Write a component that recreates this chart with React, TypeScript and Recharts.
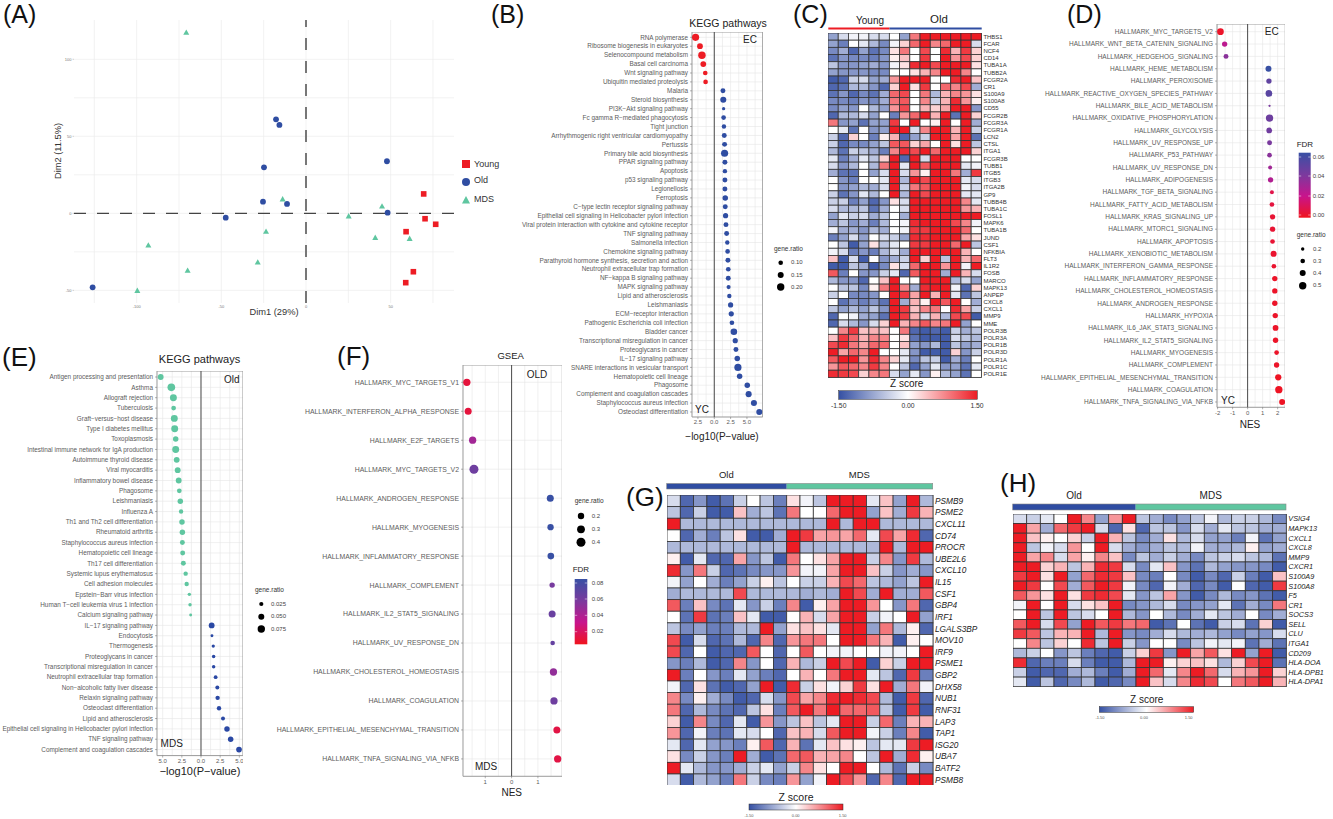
import React from 'react';
import { ScatterChart, Scatter, XAxis, YAxis, CartesianGrid, ReferenceLine, ReferenceArea } from 'recharts';

const FONT = '"Liberation Sans", Arial, sans-serif';

// ---------- Panel A ----------
const aYoung = [[69.5,12.6],[70.3,-3.5],[76.6,-7.1],[59.1,-11.9],[63.4,-37.9],[58.9,-45]];
const aOld = [[-17.7,61],[-15.7,57.4],[-24.8,29.9],[47.8,33.8],[-25.4,7.6],[-11.2,6.1],[48.2,0.4],[-47.4,-2.8],[-126,-48]];
const aMds = [[-70.7,117.3],[-13.8,9.1],[44.9,4.5],[25.2,-1.9],[40.9,-15.8],[61.2,-16.5],[-23.6,-11.9],[-93.1,-20.8],[-28.5,-31.8],[-69.9,-37.2],[-99.6,-50.2]];

// ---------- Panel B ----------
const bLabels = ['RNA polymerase','Ribosome biogenesis in eukaryotes','Selenocompound metabolism','Basal cell carcinoma','Wnt signaling pathway','Ubiquitin mediated proteolysis','Malaria','Steroid biosynthesis','PI3K\u2212Akt signaling pathway','Fc gamma R\u2212mediated phagocytosis','Tight junction','Arrhythmogenic right ventricular cardiomyopathy','Pertussis','Primary bile acid biosynthesis','PPAR signaling pathway','Apoptosis','p53 signaling pathway','Legionellosis','Ferroptosis','C\u2212type lectin receptor signaling pathway','Epithelial cell signaling in Helicobacter pylori infection','Viral protein interaction with cytokine and cytokine receptor','TNF signaling pathway','Salmonella infection','Chemokine signaling pathway','Parathyroid hormone synthesis, secretion and action','Neutrophil extracellular trap formation','NF\u2212kappa B signaling pathway','MAPK signaling pathway','Lipid and atherosclerosis','Leishmaniasis','ECM\u2212receptor interaction','Pathogenic Escherichia coli infection','Bladder cancer','Transcriptional misregulation in cancer','Proteoglycans in cancer','IL\u221217 signaling pathway','SNARE interactions in vesicular transport','Hematopoietic cell lineage','Phagosome','Complement and coagulation cascades','Staphylococcus aureus infection','Osteoclast differentiation'];
const bValues = [-2.86,-2.19,-1.89,-1.68,-1.38,-1.33,1.33,1.38,1.43,1.43,1.48,1.53,1.58,1.58,1.63,1.63,1.63,1.63,1.68,1.68,1.73,1.79,1.89,1.99,2.04,2.09,2.14,2.14,2.19,2.3,2.5,2.6,2.7,3.0,3.21,3.32,3.52,3.62,3.88,5.05,5.26,6.07,6.89];
const bRatios = [.19,.14,.2,.14,.1,.1,.11,.15,.05,.1,.09,.11,.11,.19,.11,.09,.11,.11,.13,.11,.12,.11,.11,.09,.1,.11,.1,.11,.08,.09,.12,.12,.1,.17,.12,.11,.13,.19,.13,.13,.15,.15,.15];

// ---------- Panel D ----------
const dLabels = ['MYC_TARGETS_V2','WNT_BETA_CATENIN_SIGNALING','HEDGEHOG_SIGNALING','HEME_METABOLISM','PEROXISOME','REACTIVE_OXYGEN_SPECIES_PATHWAY','BILE_ACID_METABOLISM','OXIDATIVE_PHOSPHORYLATION','GLYCOLYSIS','UV_RESPONSE_UP','P53_PATHWAY','UV_RESPONSE_DN','ADIPOGENESIS','TGF_BETA_SIGNALING','FATTY_ACID_METABOLISM','KRAS_SIGNALING_UP','MTORC1_SIGNALING','APOPTOSIS','XENOBIOTIC_METABOLISM','INTERFERON_GAMMA_RESPONSE','INFLAMMATORY_RESPONSE','CHOLESTEROL_HOMEOSTASIS','ANDROGEN_RESPONSE','HYPOXIA','IL6_JAK_STAT3_SIGNALING','IL2_STAT5_SIGNALING','MYOGENESIS','COMPLEMENT','EPITHELIAL_MESENCHYMAL_TRANSITION','COAGULATION','TNFA_SIGNALING_VIA_NFKB'].map((s) => 'HALLMARK_' + s);
const dValues = [-1.81,-1.53,-1.44,1.39,1.42,1.42,1.46,1.46,1.44,1.46,1.46,1.5,1.53,1.62,1.62,1.66,1.66,1.66,1.73,1.75,1.81,1.81,1.81,1.84,1.86,1.86,1.93,1.93,2.04,2.08,2.3];
const dRatios = [.45,.35,.32,.4,.35,.45,.12,.5,.38,.32,.3,.25,.35,.25,.3,.35,.35,.3,.4,.3,.35,.35,.35,.35,.38,.35,.3,.35,.42,.5,.4];
const dFdr = [.002,.023,.036,.06,.048,.05,.04,.044,.043,.04,.036,.03,.026,.008,.006,.004,.004,.004,.003,.003,.002,.002,.002,.002,.002,.002,.002,.002,.001,.001,.001];

// ---------- Panel E ----------
const eLabels = ['Antigen processing and presentation','Asthma','Allograft rejection','Tuberculosis','Graft\u2212versus\u2212host disease','Type I diabetes mellitus','Toxoplasmosis','Intestinal immune network for IgA production','Autoimmune thyroid disease','Viral myocarditis','Inflammatory bowel disease','Phagosome','Leishmaniasis','Influenza A','Th1 and Th2 cell differentiation','Rheumatoid arthritis','Staphylococcus aureus infection','Hematopoietic cell lineage','Th17 cell differentiation','Systemic lupus erythematosus','Cell adhesion molecules','Epstein\u2212Barr virus infection','Human T\u2212cell leukemia virus 1 infection','Calcium signaling pathway','IL\u221217 signaling pathway','Endocytosis','Thermogenesis','Proteoglycans in cancer','Transcriptional misregulation in cancer','Neutrophil extracellular trap formation','Non\u2212alcoholic fatty liver disease','Relaxin signaling pathway','Osteoclast differentiation','Lipid and atherosclerosis','Epithelial cell signaling in Helicobacter pylori infection','TNF signaling pathway','Complement and coagulation cascades'];
const eValues = [-5.26,-3.87,-3.6,-3.57,-3.48,-3.43,-3.3,-3.3,-3.17,-3.04,-2.91,-2.83,-2.7,-2.6,-2.48,-2.43,-2.43,-2.39,-2.3,-2,-1.87,-1.52,-1.43,-1.35,1.39,1.43,1.6,1.65,1.65,1.91,2.13,2.17,2.35,2.87,3.39,3.87,4.96];
const eRatios = [.05,.075,.065,.035,.065,.065,.045,.065,.05,.05,.05,.035,.045,.03,.045,.045,.038,.038,.038,.03,.03,.017,.017,.01,.05,.01,.015,.018,.018,.022,.025,.03,.03,.025,.045,.045,.048];

// ---------- Panel F ----------
const fLabels = ['MYC_TARGETS_V1','INTERFERON_ALPHA_RESPONSE','E2F_TARGETS','MYC_TARGETS_V2','ANDROGEN_RESPONSE','MYOGENESIS','INFLAMMATORY_RESPONSE','COMPLEMENT','IL2_STAT5_SIGNALING','UV_RESPONSE_DN','CHOLESTEROL_HOMEOSTASIS','COAGULATION','EPITHELIAL_MESENCHYMAL_TRANSITION','TNFA_SIGNALING_VIA_NFKB'].map((s) => 'HALLMARK_' + s);
const fValues = [-1.7,-1.65,-1.48,-1.43,1.47,1.48,1.49,1.54,1.54,1.56,1.59,1.61,1.72,1.75];
const fRatios = [.27,.25,.27,.4,.25,.2,.22,.13,.25,.07,.27,.27,.25,.27];
const fFdr = [.008,.008,.042,.062,.085,.085,.085,.058,.064,.066,.048,.062,.01,.01];

// ---------- Heatmaps: z score x 10 ----------
const cGenes = ['THBS1','FCAR','NCF4','CD14','TUBA1A','TUBB2A','FCGR2A','CR1','S100A9','S100A8','CD55','FCGR2B','FCGR3A','FCGR1A','LCN2','CTSL','ITGA1','FCGR3B','TUBB1','ITGB5','ITGB3','ITGA2B','GP9','TUBB4B','TUBA1C','FOSL1','MAPK6','TUBA1B','JUND','CSF1','NFKBIA','FLT3','IL1R2','FOSB','MARCO','MAPK13','ANPEP','CXCL8','CXCL1','MMP9','MME','POLR3B','POLR3A','POLR1B','POLR3D','POLR1A','POLR1C','POLR1E'];
const cValues = [
[-8,-3,-1,-1,-3,-3,0,-8,9,15,15,15,15,15,15],
[-8,-11,0,-2,-6,-10,-1,3,10,15,8,10,15,15,-3],
[-10,-7,-13,-8,-12,-10,2,9,0,12,0,14,5,13,3],
[-12,-9,-10,-10,-11,-9,1,4,0,13,0,15,7,12,3],
[-5,-9,-9,-8,-7,-9,-1,2,14,15,12,15,15,15,2],
[-8,-9,-9,-9,-10,-10,0,0,2,5,8,15,15,8,0],
[-14,-13,-4,-3,-8,-7,7,15,15,15,0,0,14,15,4],
[-13,-12,-6,-6,-9,-13,3,15,2,13,0,10,8,12,-7],
[-12,-9,-13,-10,-12,-7,10,12,0,9,-6,5,8,7,2],
[-10,-10,-11,-9,-10,-7,9,11,0,8,-4,5,14,7,1],
[-10,-8,-9,0,-6,-8,7,12,0,5,3,6,15,15,-9],
[-13,-6,-6,-3,-8,0,-11,7,10,15,5,15,-12,15,3],
[9,-9,-8,-12,-8,-8,13,0,15,0,1,15,0,15,-7],
[0,-2,-12,0,-9,-8,15,15,-3,8,15,15,5,15,-4],
[-4,-13,3,0,-11,1,5,-13,-8,-4,15,15,6,15,-12],
[-4,-13,-10,-10,-8,-5,11,11,3,6,0,15,2,15,-5],
[-6,-12,-4,-5,-7,-11,8,14,12,15,10,15,15,15,3],
[-2,-11,-7,-2,-5,3,15,-13,15,-3,15,15,15,0,0],
[-3,-9,-6,0,-6,9,15,-2,15,11,15,15,15,-2,-1],
[-7,-12,-12,0,-8,-3,15,-3,7,1,15,15,9,-7,13],
[0,-9,-11,0,0,-2,15,-6,15,12,15,15,15,-2,-3],
[0,-9,-8,-6,-7,-3,15,-4,9,11,15,15,15,-1,-3],
[-4,-12,-9,-2,-6,0,15,-6,15,12,15,15,15,-2,-2],
[-4,-4,-11,-8,-13,-9,2,-3,15,15,15,15,15,8,-2],
[-3,-6,-6,-5,-12,-7,0,-3,15,15,15,15,15,7,5],
[-8,-2,-4,-3,-7,-5,0,-7,15,15,15,15,15,15,15],
[-7,-5,-9,-7,-11,-6,0,-1,14,15,15,15,12,8,-1],
[-1,-7,-7,-9,-6,-7,0,-1,13,13,15,15,15,10,0],
[-11,-8,-3,-8,0,-3,-4,-8,14,14,15,15,15,6,2],
[0,-5,-14,-8,2,-5,-2,0,13,13,15,15,10,15,-5],
[-1,-3,-11,-9,-11,-6,-3,-7,15,15,15,15,15,5,0],
[4,-14,-3,-14,0,-9,-7,-4,15,3,15,-5,15,5,10],
[-14,-14,-5,-7,-14,-10,2,-3,10,15,15,7,15,-1,15],
[11,-11,0,-9,-9,-4,-2,-13,11,15,15,-7,15,5,-3],
[-6,-9,-9,-13,0,4,15,0,0,15,15,15,-6,-3,-8],
[0,-5,-5,-10,1,9,15,8,-7,14,15,15,-1,-13,3],
[-4,0,-10,-10,-9,0,15,13,6,15,5,15,-2,-12,-5],
[0,-12,-9,-11,-9,-12,15,-7,5,1,15,11,15,0,-7],
[-5,-8,-6,-8,-5,-9,15,13,4,8,9,0,14,6,-4],
[-13,0,-1,-7,-8,-12,15,13,5,-3,5,-6,12,12,-14],
[-13,-3,-6,-9,-3,3,15,5,8,11,8,9,15,-8,0],
[0,8,13,4,5,4,0,9,-13,-14,-13,-14,-4,-7,-5],
[4,13,10,5,8,8,0,2,-12,-14,-14,-14,-3,-5,-6],
[12,14,9,6,10,10,0,4,-8,-9,-6,-14,-5,-8,-7],
[15,6,10,8,15,0,0,-2,-9,-14,-14,-14,3,-9,-4],
[11,15,15,7,14,8,3,-2,-10,-5,-4,-14,-7,-11,0],
[7,11,10,8,13,8,0,-5,-13,-8,-2,-9,-8,-12,-2],
[14,13,12,3,8,9,-3,-8,-2,-9,1,-6,-8,-12,0],
];

const gGenes = ['PSMB9','PSME2','CXCL11','CD74','PROCR','UBE2L6','CXCL10','IL15','CSF1','GBP4','IRF1','LGALS3BP','MOV10','IRF9','PSME1','GBP2','DHX58','NUB1','RNF31','LAP3','TAP1','ISG20','UBA7','BATF2','PSMB8'];
const gValues = [
[-3,-13,-9,-14,-12,-4,0,-5,-11,2,-1,-5,15,15,15,-2,4,-8,15,-6],
[-5,-13,-4,-14,-14,4,-7,-5,-12,9,0,0,10,15,15,-8,4,-7,13,5],
[15,-6,-6,-6,-6,-6,-6,-6,-6,-6,-6,-6,15,-6,15,15,-6,-6,-6,-6],
[0,-13,-7,-11,-5,2,-14,-14,-7,15,13,6,7,6,10,-2,12,6,14,-13],
[-6,-6,-6,-6,-6,-6,-6,-6,-6,15,-6,-6,-6,-6,-6,-6,15,-6,15,15],
[1,-14,-2,-13,-13,6,-9,-5,-14,9,0,2,6,15,15,-4,8,-9,13,-6],
[14,-9,9,-4,-13,-12,-10,-9,-9,7,-1,-1,6,15,15,4,-4,-9,-7,-9],
[-1,-8,0,-7,-11,-8,-4,1,-5,0,-4,-4,5,12,10,-5,-6,-8,-5,15],
[-7,-6,-6,-6,-6,12,-6,-6,-6,-6,-7,-6,-7,15,12,-7,15,-7,-7,11],
[11,-11,4,-10,-12,-2,-9,-4,-11,8,-14,1,6,15,15,7,0,-9,9,-13],
[0,-12,13,-12,-11,4,-2,-14,-14,0,5,-3,6,15,15,-4,-1,0,15,-8],
[-5,-10,-8,-11,-11,-6,-6,15,-8,2,4,2,-2,15,15,-8,9,-6,1,-13],
[12,-14,-3,-13,-12,-6,-13,8,-13,7,9,9,0,15,15,9,5,-14,1,0],
[12,-13,0,-14,-13,-13,11,0,-13,0,11,0,-1,-1,0,0,-1,-1,0,15],
[-9,-11,-6,-14,-13,8,-9,0,-13,5,-6,-4,15,12,15,-14,3,-4,15,15],
[15,-11,0,-9,-11,-2,-8,-11,-13,0,5,0,9,15,15,-2,-5,-13,13,-11],
[-1,-13,2,-12,-14,-13,-8,15,-14,14,-4,2,-1,3,13,2,15,-7,9,-1],
[8,-10,1,-7,-10,-14,-13,-3,-9,12,6,8,14,15,14,12,-6,-14,13,-13],
[9,-13,-6,-10,-12,-13,-5,2,-11,11,15,9,15,10,10,11,-5,-14,13,-14],
[3,-14,8,-10,-13,-2,-14,7,-9,-5,4,-5,-2,15,15,-4,10,-11,5,5],
[7,-13,-1,-11,-12,-2,-3,0,-13,4,5,-3,11,15,15,-1,-4,-11,8,-14],
[-2,-13,-2,-8,-9,-11,1,11,-13,5,-12,-2,4,2,1,-5,-2,-2,13,15],
[2,-10,-4,-9,-11,15,-7,-14,-12,10,11,5,6,8,0,-5,15,-7,14,1],
[15,-2,-6,-9,-9,-7,-4,-2,-8,-4,8,2,0,15,15,0,-6,-12,-4,-10],
[-3,-14,-6,-8,-11,9,-4,-10,-11,7,-8,-1,15,12,7,-13,8,-13,15,15],
];

const hGenes = ['VSIG4','MAPK13','CXCL1','CXCL8','MMP9','CXCR1','S100A9','S100A8','F5','CR1','SOCS3','SELL','CLU','ITGA1','CD209','HLA-DOA','HLA-DPB1','HLA-DPA1'];
const hValues = [
[-3,-4,-2,0,15,8,-8,7,15,-5,-7,-10,-8,-5,-1,-6,-4,-4,-6,-10],
[15,6,-7,10,13,15,-3,-13,2,-13,-5,-5,-9,-3,-7,-2,-5,-5,-7,-7],
[15,4,1,0,3,-4,15,5,-5,-10,-7,2,-6,-3,-8,-8,-11,-1,-12,-8],
[15,-5,-1,-3,7,0,15,-3,-7,-9,-7,-5,-6,-1,-7,-7,-6,1,-8,-7],
[15,6,8,-3,6,1,8,4,-10,-5,-7,-4,-7,-10,-5,-4,-3,-5,-6,-12],
[15,15,3,5,-5,5,14,13,-3,-10,-2,4,-9,-12,-6,-8,-9,-9,-10,-14],
[13,15,2,15,-8,10,14,13,4,-10,-11,0,-10,-14,-10,-13,-4,-11,-14,4],
[15,13,0,12,-7,11,15,13,-1,-10,-13,-1,-7,-13,-10,-14,0,-13,-14,13],
[11,7,2,15,2,13,14,12,-2,-9,-5,6,-9,-14,-10,-6,-10,-9,-12,-14],
[-1,15,0,15,-3,2,4,15,-10,-9,-6,-3,-10,-9,-8,-2,-12,-7,-10,9],
[0,15,-5,15,-5,-3,0,15,-6,-9,0,-6,-10,-7,-2,-5,-7,0,-10,-7],
[11,15,-3,12,-8,15,11,13,9,10,-14,-12,0,-12,-14,-4,-3,-12,3,-14],
[13,11,-5,5,5,15,-6,15,-9,-10,-7,-3,-6,-7,-6,-8,-10,-8,-9,-3],
[0,8,-5,3,0,14,-5,15,-4,-9,0,0,-10,-5,-1,-2,-1,-12,-7,-12],
[-6,-4,0,-9,-5,-11,-13,-14,-4,3,13,-9,15,6,11,2,15,-8,15,-14],
[14,-13,-11,-11,-3,-11,-14,-14,-6,15,15,1,3,4,2,-6,3,12,15,-12],
[-4,-14,-13,-13,-7,-6,-11,-14,-7,15,10,-2,8,15,10,-3,5,7,15,3],
[-2,-14,-5,-13,-10,-6,-14,-13,-10,15,4,-3,8,14,12,0,9,11,15,5],
];

// ---------- colour helpers ----------
const RED = '#ED1C24';
const BLUE = '#2F4DA2';
const GREEN = '#5FC6A0';
const hex = (c: string) => [1, 3, 5].map((i) => parseInt(c.slice(i, i + 2), 16));
const mix = (a: string, b: string, t: number) => {
  const A = hex(a), B = hex(b);
  return `rgb(${A.map((v, i) => Math.round(v + (B[i] - v) * t)).join(',')})`;
};
const zColor = (z: number) => {
  const t = Math.max(-1, Math.min(1, z / 1.5));
  return t < 0 ? mix('#FFFFFF', '#3550A3', -t) : mix('#FFFFFF', RED, t);
};
const FDR_STOPS = ['#F0141E', '#C8148C', '#7A3A9E', '#3850A4'];
const fdrColor = (f: number, max: number) => {
  const t = Math.max(0, Math.min(0.9999, f / max)) * 3;
  const i = Math.floor(t);
  return mix(FDR_STOPS[i], FDR_STOPS[i + 1], t - i);
};

const range = (a: number, b: number, s: number) => {
  const out: number[] = [];
  for (let v = a; v <= b + 1e-9; v += s) out.push(+v.toFixed(4));
  return out;
};

// ---------- dot plot panel ----------
type DotProps = {
  left: number; top: number; right: number; bottom: number; labelW: number;
  labels: string[]; values: number[]; ratios: number[];
  color: (i: number, v: number) => string; radius: (g: number) => number;
  xDomain: [number, number]; yDomain: [number, number];
  xTicks: number[]; xMinor: number; fmt: (v: number) => string; font: number; tickFont: number;
};
function DotPanel(p: DotProps) {
  const w = p.right - p.left + p.labelW;
  const h = p.bottom - p.top + 14;
  const data = p.labels.map((name, i) => ({ name, x: p.values[i], y: i + 1, ratio: p.ratios[i], idx: i }));
  const rows = p.labels.map((_, i) => i + 1);
  const renderTick = (t: any) => (
    <text x={t.x} y={t.y} dy="0.35em" textAnchor="end" fontSize={p.font} fill="#5c5c5c" fontFamily={FONT}>
      {p.labels[Math.round(t.payload.value) - 1]}
    </text>
  );
  return (
    <div style={{ position: 'absolute', left: p.left - p.labelW, top: p.top }}>
      <ScatterChart width={w} height={h} margin={{ top: 0, right: 0, bottom: 0, left: 0 }}>
        <CartesianGrid stroke="#e6e6e6" strokeWidth={0.6}
          horizontalValues={rows}
          verticalValues={range(Math.ceil(p.xDomain[0] / p.xMinor) * p.xMinor, p.xDomain[1], p.xMinor)} />
        <XAxis type="number" dataKey="x" domain={p.xDomain} allowDataOverflow ticks={p.xTicks} interval={0}
          height={14} tickFormatter={p.fmt} axisLine={false} tickSize={2} tickMargin={1}
          tickLine={{ stroke: '#666', strokeWidth: 0.5 }}
          tick={{ fontSize: p.tickFont, fill: '#5c5c5c', fontFamily: FONT }} />
        <YAxis type="number" dataKey="y" domain={p.yDomain} allowDataOverflow reversed ticks={rows} interval={0}
          width={p.labelW} axisLine={false} tickSize={2} tickMargin={2}
          tickLine={{ stroke: '#666', strokeWidth: 0.5 }} tick={renderTick} />
        <ReferenceArea x1={p.xDomain[0]} x2={p.xDomain[1]} y1={p.yDomain[0]} y2={p.yDomain[1]}
          fill="none" stroke="#9a9a9a" strokeWidth={1} ifOverflow="visible" />
        <ReferenceLine x={0} stroke="#4a4a4a" strokeWidth={1} />
        <Scatter data={data} isAnimationActive={false}
          shape={(s: any) => (
            <circle cx={s.cx} cy={s.cy} r={p.radius(s.payload.ratio)} fill={p.color(s.payload.idx, s.payload.x)} />
          )} />
      </ScatterChart>
    </div>
  );
}

// ---------- heatmap panel ----------
type HeatProps = {
  left: number; top: number; right: number; bottom: number; labelW: number;
  genes: string[]; values: number[][]; font: number; italic?: boolean; labelColor: string;
};
function HeatPanel(p: HeatProps) {
  const pw = p.right - p.left;
  const ph = p.bottom - p.top;
  const nc = p.values[0].length;
  const nr = p.genes.length;
  const cw = pw / nc;
  const ch = ph / nr;
  const data = p.values.flatMap((row, r) => row.map((v, c) => ({ x: c + 1, y: r + 1, z: v / 10 })));
  const rows = p.genes.map((_, i) => i + 1);
  const renderTick = (t: any) => (
    <text x={t.x} y={t.y} dy="0.35em" textAnchor="start" fontSize={p.font} fill={p.labelColor}
      fontFamily={FONT} fontStyle={p.italic ? 'italic' : 'normal'}>
      {p.genes[Math.round(t.payload.value) - 1]}
    </text>
  );
  return (
    <div style={{ position: 'absolute', left: p.left, top: p.top }}>
      <ScatterChart width={pw + p.labelW} height={ph} margin={{ top: 0, right: 0, bottom: 0, left: 0 }}>
        <XAxis type="number" dataKey="x" domain={[0.5, nc + 0.5]} hide />
        <YAxis type="number" dataKey="y" orientation="right" domain={[0.5, nr + 0.5]} reversed ticks={rows} interval={0}
          width={p.labelW} axisLine={false} tickLine={false} tickSize={0} tickMargin={2} tick={renderTick} />
        <Scatter data={data} isAnimationActive={false}
          shape={(s: any) => (
            <rect x={s.cx - cw / 2} y={s.cy - ch / 2} width={cw} height={ch}
              fill={zColor(s.payload.z)} stroke="#333" strokeWidth={0.8} />
          )} />
        <ReferenceArea x1={0.5} x2={nc + 0.5} y1={0.5} y2={nr + 0.5} fill="none" stroke="#777" strokeWidth={0.8} ifOverflow="visible" />
      </ScatterChart>
    </div>
  );
}

// ---------- panel A ----------
function PanelA() {
  const left = 74, right = 454, top = 20, bottom = 303, yw = 14;
  const xDomain: [number, number] = [-137, 87.4];
  const yDomain: [number, number] = [-58.2, 125.5];
  const toObj = (a: number[][]) => a.map(([x, y]) => ({ x, y }));
  return (
    <div style={{ position: 'absolute', left: left - yw, top }}>
      <ScatterChart width={right - left + yw} height={bottom - top + 12} margin={{ top: 0, right: 0, bottom: 0, left: 0 }}>
        <CartesianGrid stroke="#ececec" strokeWidth={0.7}
          verticalValues={[-125, -100, -75, -50, -25, 0, 25, 50, 75]}
          horizontalValues={[-50, -25, 0, 25, 50, 75, 100]} />
        <XAxis type="number" dataKey="x" domain={xDomain} allowDataOverflow ticks={[-100, -50, 0, 50]} interval={0}
          height={12} axisLine={false} tickLine={false} tickSize={1} tickMargin={1}
          tick={{ fontSize: 4, fill: '#777', fontFamily: FONT }} />
        <YAxis type="number" dataKey="y" domain={yDomain} allowDataOverflow ticks={[-50, 0, 50, 100]} interval={0}
          width={yw} axisLine={false} tickSize={1.5} tickMargin={1}
          tickLine={{ stroke: '#888', strokeWidth: 0.4 }}
          tick={{ fontSize: 4, fill: '#777', fontFamily: FONT }} />
        <ReferenceLine y={0} stroke="#444" strokeWidth={1.2} strokeDasharray="12 11" />
        <ReferenceLine x={0} stroke="#777" strokeWidth={2} strokeDasharray="12 11" />
        <Scatter data={toObj(aYoung)} isAnimationActive={false}
          shape={(s: any) => <rect x={s.cx - 2.8} y={s.cy - 2.8} width={5.6} height={5.6} fill={RED} />} />
        <Scatter data={toObj(aOld)} isAnimationActive={false}
          shape={(s: any) => <circle cx={s.cx} cy={s.cy} r={2.9} fill={BLUE} />} />
        <Scatter data={toObj(aMds)} isAnimationActive={false}
          shape={(s: any) => <polygon points={`${s.cx},${s.cy - 3.2} ${s.cx + 3},${s.cy + 2.2} ${s.cx - 3},${s.cy + 2.2}`} fill={GREEN} />} />
      </ScatterChart>
    </div>
  );
}

// ---------- overlay text ----------
type TP = { x: number; y: number; s: number; c?: string; a?: 'start' | 'middle' | 'end'; children: React.ReactNode; rot?: number };
const T = ({ x, y, s, c = '#222', a = 'start', children, rot }: TP) => (
  <text x={x} y={y} fontSize={s} fill={c} textAnchor={a} dominantBaseline="middle" fontFamily={FONT}
    transform={rot ? `rotate(${rot} ${x} ${y})` : undefined}>{children}</text>
);
const Letter = ({ x, y, s = 26, children }: { x: number; y: number; s?: number; children: string }) => (
  <text x={x} y={y} fontSize={s} fill="#111" fontFamily={FONT}>{children}</text>
);
const SizeLegend = ({ x, tx, lx, ty, ys, labels, radii }: { x: number; tx: number; lx: number; ty: number; ys: number[]; labels: string[]; radii: number[] }) => (
  <g>
    <T x={x} y={ty} s={6.5} c="#333">gene.ratio</T>
    {ys.map((y, i) => (
      <g key={i}>
        <circle cx={tx} cy={y} r={radii[i]} fill="#000" />
        <T x={lx} y={y} s={6} c="#444">{labels[i]}</T>
      </g>
    ))}
  </g>
);
const FdrBar = ({ x, y, w, h, id, ticks, lx, title, ty }: { x: number; y: number; w: number; h: number; id: string; ticks: [string, number][]; lx: number; title: string; ty: number }) => (
  <g>
    <defs>
      <linearGradient id={id} x1="0" y1="1" x2="0" y2="0">
        {[0, 1, 2, 3].map((i) => <stop key={i} offset={`${(i / 3) * 100}%`} stopColor={FDR_STOPS[i]} />)}
      </linearGradient>
    </defs>
    <T x={x - 2} y={ty} s={8} c="#222">{title}</T>
    <rect x={x} y={y} width={w} height={h} fill={`url(#${id})`} />
    {ticks.map(([l, yy]) => (
      <g key={l}>
        <line x1={x} x2={x + 2.5} y1={yy} y2={yy} stroke="#fff" strokeWidth={0.5} />
        <line x1={x + w - 2.5} x2={x + w} y1={yy} y2={yy} stroke="#fff" strokeWidth={0.5} />
        <T x={lx} y={yy} s={6} c="#444">{l}</T>
      </g>
    ))}
  </g>
);
const ZBar = ({ id, x, y, w, h }: { id: string; x: number; y: number; w: number; h: number }) => (
  <g>
    <defs>
      <linearGradient id={id} x1="0" y1="0" x2="1" y2="0">
        <stop offset="0%" stopColor="#3550A3" />
        <stop offset="50%" stopColor="#FFFFFF" />
        <stop offset="100%" stopColor={RED} />
      </linearGradient>
    </defs>
    <rect x={x} y={y} width={w} height={h} fill={`url(#${id})`} stroke="#333" strokeWidth={0.5} />
  </g>
);

function Overlay() {
  return (
    <svg width={1333} height={819} style={{ position: 'absolute', left: 0, top: 0, pointerEvents: 'none' }}>
      <Letter x={3} y={23} s={25}>(A)</Letter>
      <Letter x={491} y={23} s={25}>(B)</Letter>
      <Letter x={793} y={23} s={25}>(C)</Letter>
      <Letter x={1067} y={23} s={25}>(D)</Letter>
      <Letter x={2} y={366}>(E)</Letter>
      <Letter x={337} y={365}>(F)</Letter>
      <Letter x={626} y={506}>(G)</Letter>
      <Letter x={1000} y={492}>(H)</Letter>

      {/* A */}
      <T x={274} y={313} s={9.3} a="middle" c="#333">Dim1 (29%)</T>
      <T x={59} y={151} s={9.3} a="middle" c="#333" rot={-90}>Dim2 (11.5%)</T>
      <rect x={462} y={160} width={8} height={8} fill={RED} />
      <circle cx={466} cy={182} r={4} fill={BLUE} />
      <polygon points="466,196 470,203.5 462,203.5" fill={GREEN} />
      <T x={474} y={165} s={9} c="#333">Young</T>
      <T x={474} y={181} s={9} c="#333">Old</T>
      <T x={474} y={200} s={9} c="#333">MDS</T>

      {/* B */}
      <T x={728} y={24} s={10.5} a="middle">KEGG pathways</T>
      <T x={750} y={40} s={10} a="middle">EC</T>
      <T x={702} y={410} s={10} a="middle">YC</T>
      <T x={722} y={437} s={10} a="middle">{'\u2212log10(P\u2212value)'}</T>
      <SizeLegend x={774} tx={780.7} lx={791} ty={249} ys={[262.7, 275, 287]} labels={['0.10', '0.15', '0.20']} radii={[2.3, 3, 3.7]} />

      {/* C */}
      <T x={870} y={21} s={10} a="middle">Young</T>
      <T x={939} y={20} s={11.5} a="middle">Old</T>
      <rect x={828.3} y={27.5} width={61.2} height={2} fill={RED} />
      <rect x={889.5} y={27.5} width={92.2} height={2} fill={BLUE} />
      <T x={906.7} y={384} s={10} a="middle">Z score</T>
      <ZBar id="zc" x={838.7} y={390.7} w={138.6} h={8.6} />
      <T x={838.7} y={406.7} s={6.8} a="middle" c="#333">-1.50</T>
      <T x={908} y={406.7} s={6.8} a="middle" c="#333">0.00</T>
      <T x={977} y={406.7} s={6.8} a="middle" c="#333">1.50</T>

      {/* D */}
      <T x={1271.7} y={32} s={10} a="middle">EC</T>
      <T x={1228} y={401} s={10} a="middle">YC</T>
      <T x={1250} y={425} s={10} a="middle">NES</T>
      <FdrBar x={1298.7} y={152.7} w={12} h={65} id="fd" lx={1312.7} title="FDR" ty={145}
        ticks={[['0.06', 157], ['0.04', 176], ['0.02', 196], ['0.00', 215]]} />
      <SizeLegend x={1296.7} tx={1302.7} lx={1313} ty={235.7} ys={[249, 261, 273, 285.7]} labels={['0.2', '0.3', '0.4', '0.5']} radii={[1.7, 2.3, 3, 3.7]} />

      {/* E */}
      <T x={199.5} y={360} s={11} a="middle">KEGG pathways</T>
      <T x={231.7} y={380} s={10} a="middle">Old</T>
      <T x={171.7} y={744.3} s={10} a="middle">MDS</T>
      <T x={200} y={771.7} s={11} a="middle">{'\u2212log10(P\u2212value)'}</T>
      <SizeLegend x={255} tx={261.3} lx={271} ty={590.7} ys={[604, 616.7, 629]} labels={['0.025', '0.050', '0.075']} radii={[2.1, 3, 3.7]} />

      {/* F */}
      <T x={510.7} y={356} s={9.5} a="middle">GSEA</T>
      <T x={537} y={375} s={10} a="middle">OLD</T>
      <T x={486} y={767.3} s={10} a="middle">MDS</T>
      <T x={511.7} y={793.3} s={10} a="middle">NES</T>
      <SizeLegend x={574.7} tx={581} lx={591.7} ty={501.7} ys={[516, 529.3, 542.3]} labels={['0.2', '0.3', '0.4']} radii={[3.2, 3.9, 4.5]} />
      <FdrBar x={574.7} y={579} w={12.6} h={65.3} id="ff" lx={591.7} title="FDR" ty={570}
        ticks={[['0.08', 583], ['0.06', 599], ['0.04', 615.3], ['0.02', 631.7]]} />

      {/* G */}
      <T x={726.3} y={475} s={9.5} a="middle">Old</T>
      <T x={859.3} y={475} s={9.5} a="middle">MDS</T>
      <rect x={666.7} y={483.5} width={120} height={5.5} fill={BLUE} />
      <rect x={786.7} y={483.5} width={146} height={5.5} fill={GREEN} />
      <rect x={666.7} y={483.5} width={266} height={5.5} fill="none" stroke="#888" strokeWidth={0.6} />
      <T x={796} y={798} s={10.5} a="middle">Z score</T>
      <ZBar id="zg" x={749} y={804} w={94} h={6} />
      <T x={749} y={815.7} s={4} a="middle" c="#555">-1.50</T>
      <T x={795.7} y={815.7} s={4} a="middle" c="#555">0.00</T>
      <T x={842.7} y={815.7} s={4} a="middle" c="#555">1.50</T>

      {/* H */}
      <T x={1074} y={496} s={10} a="middle">Old</T>
      <T x={1210.7} y={496} s={10} a="middle">MDS</T>
      <rect x={1012.7} y={504} width={123} height={6} fill={BLUE} />
      <rect x={1135.7} y={504} width={150.3} height={6} fill={GREEN} />
      <rect x={1012.7} y={504} width={273.3} height={6} fill="none" stroke="#888" strokeWidth={0.6} />
      <T x={1146.7} y={700} s={10} a="middle">Z score</T>
      <ZBar id="zh" x={1099.3} y={706.7} w={94.4} h={5.6} />
      <T x={1100} y={717.7} s={4} a="middle" c="#555">-1.50</T>
      <T x={1144} y={717.7} s={4} a="middle" c="#555">0.00</T>
      <T x={1188.7} y={717.7} s={4} a="middle" c="#555">1.50</T>
    </svg>
  );
}

const fmtAbs1 = (v: number) => Math.abs(v).toFixed(1);
const fmtAbs0 = (v: number) => String(Math.abs(v));
const fmtSigned = (v: number) => String(v);

export default function App() {
  return (
    <div style={{ position: 'relative', width: 1333, height: 819, overflow: 'hidden', background: '#fff', fontFamily: FONT }}>
      <style>{'body{margin:0}'}</style>
      <PanelA />
      <DotPanel left={692} top={31.7} right={762.7} bottom={416.7} labelW={175}
        labels={bLabels} values={bValues} ratios={bRatios}
        color={(_, v) => (v < 0 ? RED : BLUE)}
        radius={(g) => 2.33 + (g - 0.1) * 14}
        xDomain={[-3.41, 7.41]} yDomain={[0.406, 43.56]} xTicks={[-2.5, 0, 2.5, 5]} xMinor={1.25}
        fmt={fmtAbs1} font={6.4} tickFont={6} />
      <HeatPanel left={828.3} top={33.3} right={981.7} bottom={377.7} labelW={40}
        genes={cGenes} values={cValues} font={6} labelColor="#333" />
      <DotPanel left={1216.7} top={24} right={1285} bottom={407.3} labelW={180}
        labels={dLabels} values={dValues} ratios={dRatios}
        color={(i) => fdrColor(dFdr[i], 0.06)}
        radius={(g) => (5 + (g - 0.2) * 20) / 3}
        xDomain={[-2.04, 2.51]} yDomain={[0.376, 31.43]} xTicks={[-2, -1, 0, 1, 2]} xMinor={0.5}
        fmt={fmtSigned} font={6.5} tickFont={6} />
      <DotPanel left={157.3} top={370.7} right={243.3} bottom={755.3} labelW={157}
        labels={eLabels} values={eValues} ratios={eRatios}
        color={(_, v) => (v < 0 ? GREEN : '#2A48A4')}
        radius={(g) => (6 + (g - 0.025) * 110) / 3}
        xDomain={[-5.74, 5.48]} yDomain={[0.42, 37.58]} xTicks={[-5, -2.5, 0, 2.5, 5]} xMinor={1.25}
        fmt={fmtAbs1} font={6.4} tickFont={6} />
      <DotPanel left={462.7} top={365} right={562} bottom={776.3} labelW={190}
        labels={fLabels} values={fValues} ratios={fRatios}
        color={(i) => fdrColor(fFdr[i], 0.085)}
        radius={(g) => (9.5 + (g - 0.2) * 20) / 3}
        xDomain={[-1.846, 1.926]} yDomain={[0.403, 14.6]} xTicks={[-1, 0, 1]} xMinor={0.5}
        fmt={fmtAbs0} font={6.9} tickFont={6} />
      <HeatPanel left={666.7} top={494.7} right={932.7} bottom={785.3} labelW={55}
        genes={gGenes} values={gValues} font={8.3} italic labelColor="#222" />
      <HeatPanel left={1012.7} top={514} right={1286} bottom={686.7} labelW={45}
        genes={hGenes} values={hValues} font={7.3} italic labelColor="#222" />
      <Overlay />
    </div>
  );
}
